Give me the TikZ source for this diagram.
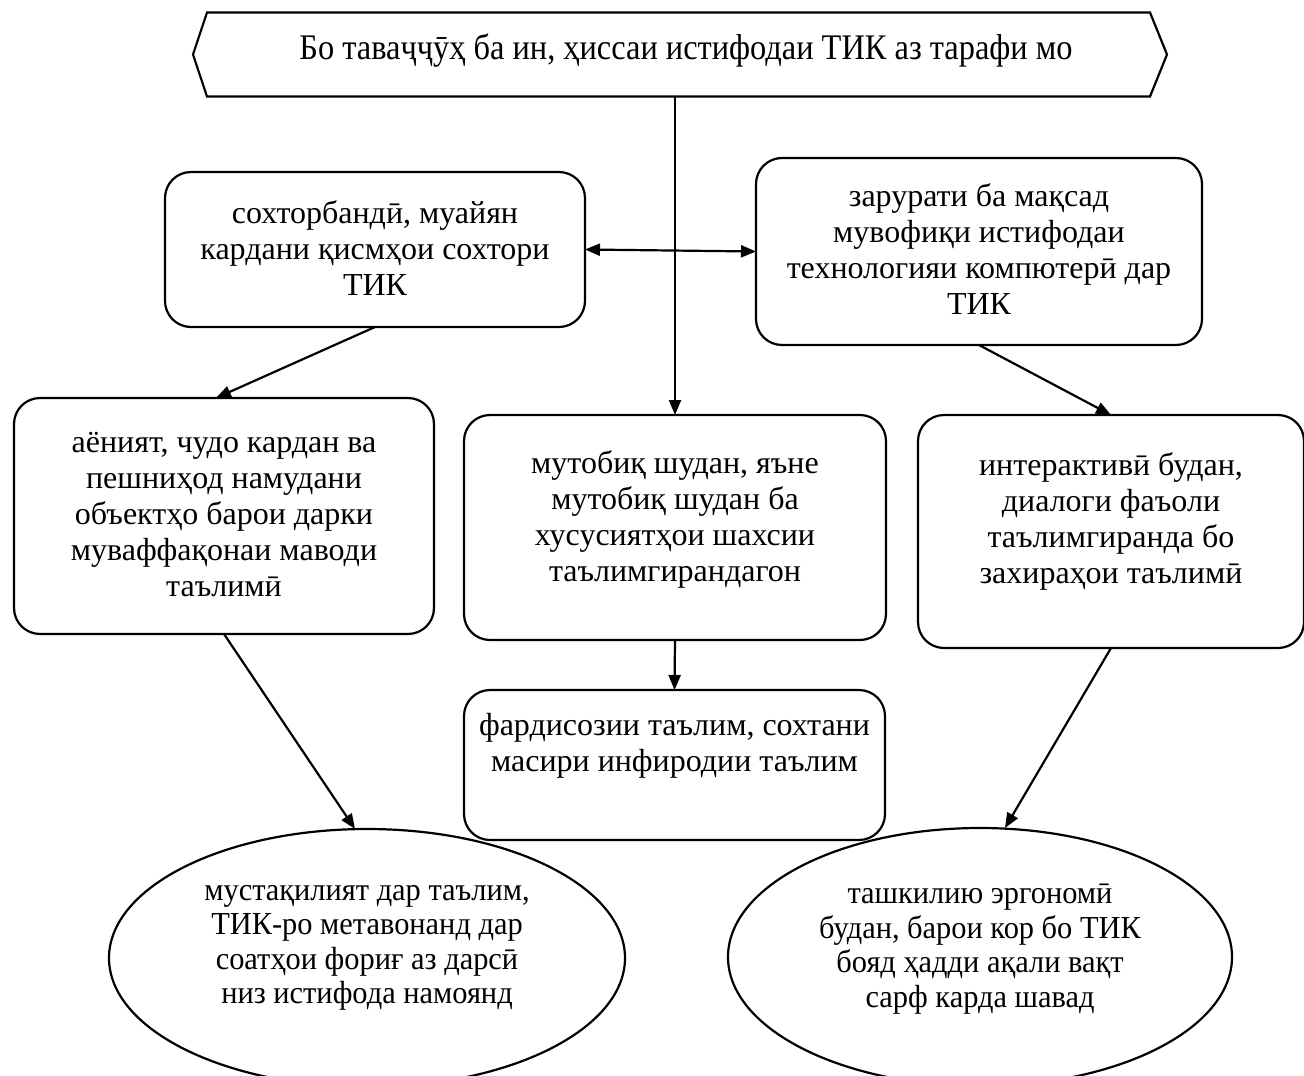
\documentclass[tikz,border=0pt]{standalone}
\usepackage{fontspec}
\setmainfont{Liberation Serif}
\newfontfamily\condf[FakeStretch=0.9]{Liberation Serif}
\newfontfamily\ellf[FakeStretch=0.95]{Liberation Serif}
\usetikzlibrary{arrows.meta,shapes.geometric,calc}
\begin{document}
\begin{tikzpicture}[x=1pt,y=-1pt,
  every node/.style={inner sep=0pt,outer sep=0pt},
  rbox/.style={draw,line width=2.2pt,rounded corners=26pt,rectangle},
  ell/.style={draw,line width=2.2pt,ellipse},
  txt/.style={align=center,font=\fontsize{32}{36}\selectfont},
  ttxt/.style={align=center,font=\condf\fontsize{36}{40}\selectfont},
  etxt/.style={align=center,font=\ellf\fontsize{32}{34.5}\selectfont},
  conn/.style={line width=2.2pt,-{Triangle[length=15pt,width=12pt]}},
  dconn/.style={line width=2.2pt,{Triangle[length=15pt,width=12pt]}-{Triangle[length=15pt,width=12pt]}}]
\useasboundingbox (0,0) rectangle (1304,1076);

% top hexagon
\node[minimum width=943pt,minimum height=84pt] (top) at (678.5,54.5) {};
\draw[line width=2.2pt,line join=miter] (top.north west) -- (top.north east) -- ($(top.east)+(17,0)$) -- (top.south east) -- (top.south west) -- ($(top.west)+(-14,0)$) -- cycle;
\node[ttxt] (toptxt) at (686,50) {Бо таваҷҷӯҳ ба ин, ҳиссаи истифодаи ТИК аз тарафи мо};

% row 1
\node[rbox,minimum width=420pt,minimum height=155pt] (A) at (375,249.5) {};
\node[txt] (At) at (375,248) {сохторбандӣ, муайян\\кардани қисмҳои сохтори\\ТИК};
\node[rbox,minimum width=446pt,minimum height=187pt] (B) at (979,251.5) {};
\node[txt] (Bt) at (979,249) {зарурати ба мақсад\\мувофиқи истифодаи\\технологияи компютерӣ дар\\ТИК};

% row 2
\node[rbox,minimum width=420pt,minimum height=236pt] (C) at (224,516) {};
\node[txt] (Ct) at (224,515) {аёният, чудо кардан ва\\пешниҳод намудани\\объектҳо барои дарки\\муваффақонаи маводи\\таълимӣ};
\node[rbox,minimum width=422pt,minimum height=225pt] (D) at (675,527.5) {};
\node[txt] (Dt) at (675,519) {мутобиқ шудан, яъне\\мутобиқ шудан ба\\хусусиятҳои шахсии\\таълимгирандагон};
\node[rbox,minimum width=386pt,minimum height=233pt] (E) at (1111,531.5) {};
\node[txt] (Et) at (1111,521) {интерактивӣ будан,\\диалоги фаъоли\\таълимгиранда бо\\захираҳои таълимӣ};

% row 3
\node[rbox,minimum width=421pt,minimum height=150pt] (F) at (674.5,765) {};
\node[txt] (Ft) at (674.5,746) {фардисозии таълим, сохтани\\масири инфиродии таълим};

% ellipses
\node[ell,minimum width=516pt,minimum height=258pt] (G) at (367,958) {};
\node[etxt] (Gt) at (367,948) {мустақилият дар таълим,\\ТИК-ро метавонанд дар\\соатҳои фориғ аз дарсӣ\\низ истифода намоянд};
\node[ell,minimum width=504pt,minimum height=258pt] (H) at (980,957) {};
\node[etxt] (Ht) at (980,949) {ташкилию эргономӣ\\будан, барои кор бо ТИК\\бояд ҳадди ақали вақт\\сарф карда шавад};

% connectors
\draw[conn] (top.south -| D.north) -- (D.north);
\draw[dconn] (A.east) -- (B.west);
\draw[conn] (A.south) -- ([xshift=-8pt]C.north);
\draw[conn] (B.south) -- (E.north);
\draw[conn] (D.south) -- (F.north);
\draw[conn] (C.south) -- ([xshift=-12pt]G.north);
\draw[conn] (E.south) -- ([xshift=25pt]H.north);
\end{tikzpicture}
\end{document}
